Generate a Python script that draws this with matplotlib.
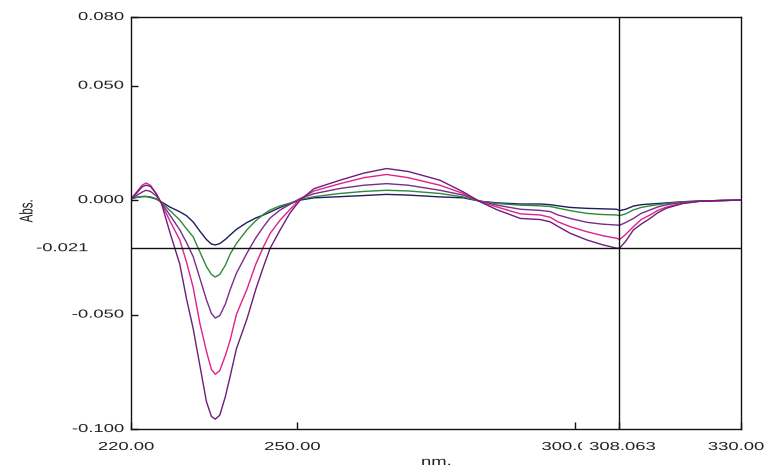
import matplotlib
matplotlib.use("Agg")
import matplotlib.pyplot as plt
from matplotlib.patheffects import AbstractPathEffect
from matplotlib.transforms import Affine2D, ScaledTranslation, blended_transform_factory

# ---------------- data ----------------
wavelength = [220, 221, 222, 222.7, 223.5, 224.5, 225.5, 227, 228.8, 230, 231.2, 232.4,
              233.6, 234.5, 235.2, 236, 237, 237.9, 239, 240.9, 242.5, 243.9, 245.1,
              246.9, 248.7, 250.5, 253, 257.7, 262, 266.1, 270, 275.7, 279.9, 283, 286,
              290.2, 293.8, 295.6, 297, 299.2, 302.2, 305, 307.6, 308.1, 309.2, 310.6,
              312, 313.6, 315, 316.6, 319.5, 322.6, 326, 330]

abs_navy = [0.0005, 0.0012, 0.0015, 0.0016, 0.0012, 0.0005, -0.0008, -0.003, -0.0051,
            -0.0068, -0.0095, -0.0135, -0.0172, -0.0192, -0.0196, -0.019, -0.0172,
            -0.0152, -0.0128, -0.0098, -0.0078, -0.0065, -0.0052, -0.0032, -0.0015,
            0.0, 0.001, 0.0015, 0.002, 0.0025, 0.0022, 0.0014, 0.001, -0.0005, -0.0012,
            -0.0017, -0.0017, -0.002, -0.0025, -0.0032, -0.0036, -0.0038, -0.004,
            -0.0046, -0.004, -0.0026, -0.002, -0.0017, -0.0015, -0.0012, -0.0007,
            -0.0004, -0.0002, 0.0]

abs_green = [0.0005, 0.0012, 0.0016, 0.0016, 0.0014, 0.0006, -0.001, -0.0045, -0.0087,
             -0.0125, -0.016, -0.0225, -0.029, -0.0325, -0.0336, -0.0325, -0.0285,
             -0.0235, -0.019, -0.013, -0.009, -0.0062, -0.0043, -0.0025, -0.0013,
             0.0003, 0.0015, 0.0029, 0.0038, 0.0043, 0.004, 0.0029, 0.0014, -0.0005,
             -0.0015, -0.0022, -0.0025, -0.0028, -0.0035, -0.0046, -0.0058, -0.0063,
             -0.0065, -0.0068, -0.006, -0.0043, -0.0032, -0.0025, -0.002, -0.0015,
             -0.0008, -0.0004, -0.0002, 0.0]

abs_purple = [0.0005, 0.002, 0.0035, 0.0043, 0.0038, 0.002, -0.0012, -0.0065, -0.013,
              -0.0185, -0.0246, -0.034, -0.0435, -0.0495, -0.0515, -0.0505, -0.0455,
              -0.039, -0.032, -0.0232, -0.0165, -0.0116, -0.0078, -0.0043, -0.0018,
              0.0007, 0.0028, 0.0051, 0.0065, 0.0072, 0.0065, 0.0043, 0.0022, -0.0005,
              -0.0022, -0.004, -0.0045, -0.005, -0.0065, -0.008, -0.0097, -0.0105,
              -0.0109, -0.011, -0.0098, -0.008, -0.0058, -0.0043, -0.003, -0.002,
              -0.001, -0.0004, -0.0002, 0.0]

abs_magenta = [0.0005, 0.0035, 0.0065, 0.0075, 0.0065, 0.003, -0.0015, -0.009, -0.0174,
               -0.027, -0.038, -0.0536, -0.066, -0.074, -0.0761, -0.0745, -0.068,
               -0.061, -0.05, -0.039, -0.028, -0.0203, -0.0145, -0.0087, -0.004,
               0.0005, 0.004, 0.0072, 0.0098, 0.0112, 0.0098, 0.0065, 0.0029, -0.0007,
               -0.003, -0.006, -0.0065, -0.0075, -0.0095, -0.0116, -0.0138, -0.0155,
               -0.0167, -0.0172, -0.015, -0.0116, -0.0085, -0.0065, -0.0045, -0.003,
               -0.0013, -0.0005, -0.0002, 0.0]

abs_darkpurple = [0.0005, 0.003, 0.0058, 0.0065, 0.006, 0.003, -0.0015, -0.014, -0.028,
                  -0.043, -0.0560, -0.072, -0.088, -0.0945, -0.0957, -0.094, -0.086,
                  -0.0768, -0.065, -0.052, -0.039, -0.029, -0.021, -0.013, -0.0055,
                  0.0, 0.005, 0.0087, 0.0118, 0.0138, 0.0125, 0.0087, 0.0036, -0.0008,
                  -0.0042, -0.008, -0.0085, -0.0095, -0.0115, -0.0145, -0.0174, -0.0195,
                  -0.021, -0.021, -0.018, -0.013, -0.0105, -0.008, -0.0055, -0.0035,
                  -0.0015, -0.0005, -0.0002, 0.0]

series = [abs_navy, abs_green, abs_purple, abs_magenta, abs_darkpurple]
series_colors = ["#1e1e5c", "#2e8b3a", "#7a2c8c", "#e0208c", "#6b1f7a"]

x_ticks = [220.0, 250.0, 300.0, 308.063, 330.0]
x_tick_labels = ["220.00", "250.00", "300.00", "308.063", "330.00"]
y_ticks = [0.080, 0.050, 0.000, -0.050, -0.100]
y_tick_labels = ["0.080", "0.050", "0.000", "-0.050", "-0.100"]
cursor_x = 308.063
cursor_y = -0.021
cursor_y_label = "-0.021"
x_label = "nm."
y_label = "Abs."


# ------------- horizontal stretch for text (source image is stretched) -------------
class HStretch(AbstractPathEffect):
    def __init__(self, sx=1.6, anchor="center"):
        super().__init__()
        self.sx = sx
        self.anchor = anchor

    def draw_path(self, renderer, gc, tpath, affine, rgbFace=None):
        v = affine.transform(tpath.vertices)
        if len(v):
            x0, x1 = v[:, 0].min(), v[:, 0].max()
            cx = {"center": (x0 + x1) / 2, "right": x1, "left": x0}[self.anchor]
            affine = affine + Affine2D().translate(-cx, 0).scale(self.sx, 1).translate(cx, 0)
        renderer.draw_path(gc, tpath, affine, rgbFace)


SX = 1.6
FS = 8.3
TXT = "#222222"
plt.rcParams["font.family"] = ["Liberation Sans", "DejaVu Sans"]

W, H = 766, 470
fig = plt.figure(figsize=(W / 100, H / 100), dpi=100)
ax = fig.add_axes([131 / W, 1 - 429 / H, 610 / W, 412 / H])

for vals, col in zip(series, series_colors):
    ax.plot(wavelength, vals, color=col, lw=1.0)

ax.axvline(cursor_x, color="#111111", lw=1.0)
ax.axhline(cursor_y, color="#111111", lw=1.0)

ax.set_xlim(220, 330)
ax.set_ylim(-0.100, 0.080)
ax.set_xticks(x_ticks)
ax.set_yticks(y_ticks)
ax.tick_params(direction="in", length=5, width=1.0, color="#111111",
               labelbottom=False, labelleft=False)
for s in ax.spines.values():
    s.set_linewidth(1.0)
    s.set_color("#111111")

# x tick labels
xoffs = [-5, -5, -5, 3, -5]
for xv, lab, dx in zip(x_ticks, x_tick_labels, xoffs):
    tr = blended_transform_factory(ax.transData, ax.transAxes) + \
        ScaledTranslation(dx / 100, -18 / 100, fig.dpi_scale_trans)
    kw = {}
    if lab == "308.063":
        kw["bbox"] = dict(boxstyle="square,pad=0.35", facecolor="white", edgecolor="none")
    t = ax.text(xv, 0, lab, transform=tr, ha="center", va="center", fontsize=FS,
                color=TXT, clip_on=False, **kw)
    t.set_path_effects([HStretch(SX, "center")])
    if lab == "308.063":
        t.get_bbox_patch().set_path_effects([HStretch(SX, "center")])

# y tick labels
for yv, lab in zip(y_ticks, y_tick_labels):
    tr = blended_transform_factory(ax.transAxes, ax.transData) + \
        ScaledTranslation(-7 / 100, 0, fig.dpi_scale_trans)
    t = ax.text(0, yv, lab, transform=tr, ha="right", va="center", fontsize=FS,
                color=TXT, clip_on=False)
    t.set_path_effects([HStretch(SX, "right")])

tr = blended_transform_factory(ax.transAxes, ax.transData) + \
    ScaledTranslation(-43 / 100, 0, fig.dpi_scale_trans)
t = ax.text(0, cursor_y, cursor_y_label, transform=tr, ha="right", va="center",
            fontsize=FS, color=TXT, clip_on=False)
t.set_path_effects([HStretch(SX, "right")])

t = fig.text(436 / W, 1 - 462 / H, x_label, ha="center", va="center", fontsize=FS, color=TXT)
t.set_path_effects([HStretch(SX, "center")])
t = fig.text(27 / W, 1 - 211 / H, y_label, ha="center", va="center", rotation=90,
             fontsize=FS, color=TXT)
t.set_path_effects([HStretch(SX, "center")])

fig.savefig("out.png", dpi=100)
